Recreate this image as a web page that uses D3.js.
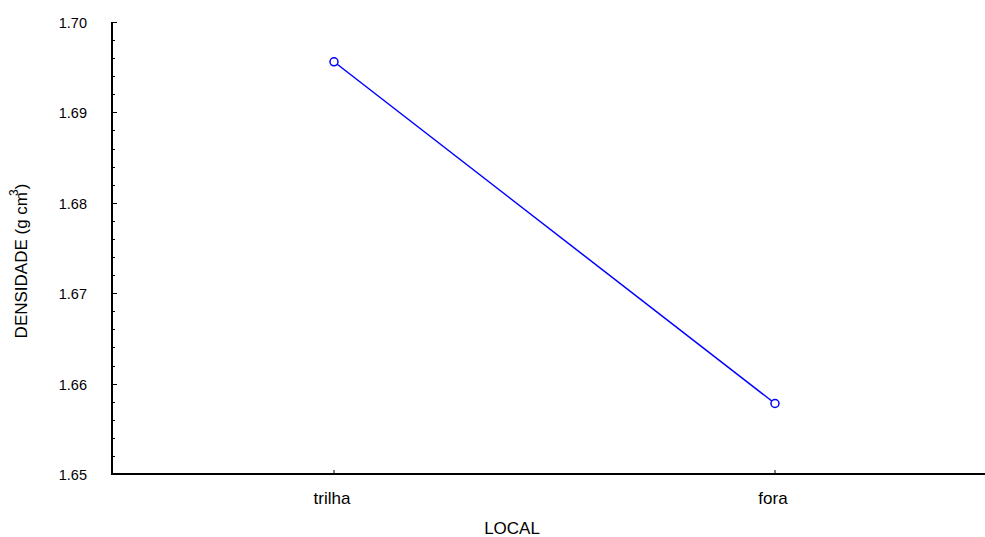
<!DOCTYPE html>
<html>
<head>
<meta charset="utf-8">
<script src="https://cdn.jsdelivr.net/npm/d3@7"></script>
<style>
  body { margin: 0; background: #fff; }
  text { font-family: "Liberation Sans", Arial, sans-serif; fill: #000; }
</style>
</head>
<body>
<svg id="chart" width="985" height="537"></svg>
<script>
const categories = ["trilha", "fora"];
const densidade = [1.6956, 1.6578];
const yTicks = [1.65, 1.66, 1.67, 1.68, 1.69, 1.70];

const svg = d3.select("#chart");
const margin = { top: 22, right: 0, bottom: 63, left: 112 };
const W = 985, H = 537;
const innerW = W - margin.left - margin.right;
const innerH = H - margin.top - margin.bottom;

const root = svg.append("g").attr("transform", `translate(${margin.left},${margin.top})`);

// trilha ~334, fora ~775 in page coords
const x = d3.scalePoint().domain(categories).range([334 - margin.left, 775 - margin.left]);
const y = d3.scaleLinear().domain([1.65, 1.70]).range([innerH, 0]);

// minor ticks every 0.002
const minor = d3.range(0, 26).map(i => 1.65 + i * 0.002);
root.selectAll("line.minor").data(minor).join("line")
  .attr("x1", 0).attr("x2", 3)
  .attr("y1", d => Math.round(y(d)) + 0.5).attr("y2", d => Math.round(y(d)) + 0.5)
  .attr("stroke", "#000").attr("stroke-width", 1);

root.selectAll("line.major").data(yTicks).join("line")
  .attr("x1", 0).attr("x2", 5)
  .attr("y1", d => Math.round(y(d)) + 0.5).attr("y2", d => Math.round(y(d)) + 0.5)
  .attr("stroke", "#000").attr("stroke-width", 1);

root.selectAll("text.yLbl").data(yTicks).join("text")
  .attr("class", "yLbl")
  .attr("x", -25).attr("y", d => y(d) + 6)
  .attr("text-anchor", "end").attr("font-size", 14.5)
  .text(d => d.toFixed(2));

// x ticks (pointing inward)
root.selectAll("line.xt").data(categories).join("line")
  .attr("x1", d => x(d)).attr("x2", d => x(d))
  .attr("y1", innerH).attr("y2", innerH - 4)
  .attr("stroke", "#000").attr("stroke-width", 1);

root.selectAll("text.xLbl").data(categories).join("text")
  .attr("x", d => x(d) - 2).attr("y", innerH + 30)
  .attr("text-anchor", "middle").attr("font-size", 17)
  .text(d => d);

// axis lines
root.append("line").attr("x1", 0).attr("x2", 0).attr("y1", 0).attr("y2", innerH)
  .attr("stroke", "#000").attr("stroke-width", 2);
root.append("line").attr("x1", -1).attr("x2", innerW).attr("y1", innerH).attr("y2", innerH)
  .attr("stroke", "#000").attr("stroke-width", 2);

// axis titles
svg.append("text").attr("x", 512).attr("y", 534)
  .attr("text-anchor", "middle").attr("font-size", 17).text("LOCAL");

const yt = svg.append("text")
  .attr("transform", "translate(27,261) rotate(-90)")
  .attr("text-anchor", "middle").attr("font-size", 17);
yt.append("tspan").text("DENSIDADE (g cm");
yt.append("tspan").attr("dy", -9).attr("dx", -4).attr("font-size", 12).text("3");
yt.append("tspan").attr("dy", 9).text(")");

// data line
const pts = categories.map((c, i) => [x(c), y(densidade[i])]);
root.append("path")
  .attr("d", d3.line()(pts))
  .attr("fill", "none").attr("stroke", "#0000ff").attr("stroke-width", 1.5);

root.selectAll("circle.pt").data(pts).join("circle")
  .attr("cx", d => d[0]).attr("cy", d => d[1]).attr("r", 4)
  .attr("fill", "#fff").attr("stroke", "#0000ff").attr("stroke-width", 1.5);
</script>
</body>
</html>
